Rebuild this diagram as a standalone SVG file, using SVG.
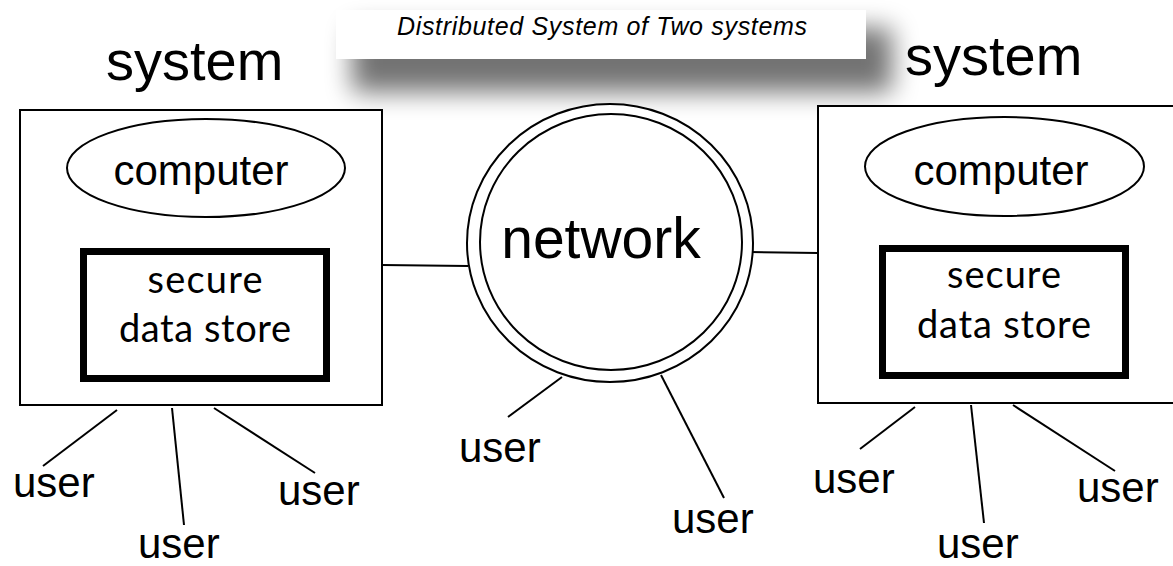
<svg xmlns="http://www.w3.org/2000/svg" width="1173" height="566" viewBox="0 0 1173 566">
  <style>
    .label { font-family: "Liberation Sans", Arial, sans-serif; fill: #000; }
    .store { font-family: Lato, "Open Sans", sans-serif; font-size: 38px; fill: #000; text-anchor: middle; }
    .frame { fill: #fff; stroke: #000; stroke-width: 2; }
    .vault { fill: #fff; stroke: #000; stroke-width: 7; }
    .wire { stroke: #000; stroke-width: 2; fill: none; }
  </style>
  <defs>
    <filter id="bannerShadow" x="-20%" y="-100%" width="140%" height="300%">
      <feGaussianBlur stdDeviation="13"/>
    </filter>
  </defs>

  <rect width="1173" height="566" fill="#fff"/>

  <!-- title banner with soft drop shadow -->
  <g id="title">
    <rect x="352" y="28" width="540" height="64" fill="#000" opacity="0.55" filter="url(#bannerShadow)"/>
    <rect x="336" y="10" width="530" height="49" fill="#fff"/>
    <text class="label" x="397" y="35" font-size="25" font-style="italic" textLength="410">Distributed System of Two systems</text>
  </g>

  <!-- connectors -->
  <g id="connectors">
    <line class="wire" x1="382" y1="265" x2="468" y2="266"/>
    <line class="wire" x1="750" y1="252" x2="818" y2="253"/>
    <line class="wire" x1="117" y1="410" x2="43" y2="466"/>
    <line class="wire" x1="172" y1="408" x2="184" y2="525"/>
    <line class="wire" x1="214" y1="408" x2="315" y2="473"/>
    <line class="wire" x1="562" y1="377" x2="508" y2="417"/>
    <line class="wire" x1="661" y1="375" x2="724" y2="498"/>
    <line class="wire" x1="915" y1="407" x2="860" y2="449"/>
    <line class="wire" x1="971" y1="405" x2="984" y2="523"/>
    <line class="wire" x1="1013" y1="405" x2="1115" y2="471"/>
  </g>

  <!-- left system -->
  <g id="system-left">
    <text class="label" x="106" y="80" font-size="56">system</text>
    <rect class="frame" x="20" y="110" width="362" height="295"/>
    <ellipse class="frame" cx="206" cy="168" rx="139" ry="49" stroke-width="1.8"/>
    <text class="label" x="201" y="185" font-size="42" text-anchor="middle">computer</text>
    <rect class="vault" x="83.5" y="251.5" width="243" height="127"/>
    <text class="store" x="205" y="293" textLength="115">secure</text>
    <text class="store" x="205" y="342" textLength="172">data store</text>
  </g>

  <!-- network -->
  <g id="network">
    <ellipse class="frame" cx="610" cy="243" rx="143" ry="139"/>
    <ellipse class="frame" cx="611" cy="242" rx="131" ry="128"/>
    <text class="label" x="601" y="258" font-size="57" text-anchor="middle">network</text>
  </g>

  <!-- right system -->
  <g id="system-right">
    <text class="label" x="905" y="75" font-size="56">system</text>
    <rect class="frame" x="818" y="106" width="370" height="297"/>
    <ellipse class="frame" cx="1004.5" cy="166.5" rx="139.5" ry="49.5" stroke-width="1.8"/>
    <text class="label" x="1001" y="185" font-size="42" text-anchor="middle">computer</text>
    <rect class="vault" x="882.5" y="248.5" width="243" height="127"/>
    <text class="store" x="1004" y="288" textLength="114">secure</text>
    <text class="store" x="1004" y="338" textLength="174">data store</text>
  </g>

  <!-- users -->
  <g id="users">
    <text class="label" x="13" y="497" font-size="42">user</text>
    <text class="label" x="138" y="558" font-size="42">user</text>
    <text class="label" x="278" y="505" font-size="42">user</text>
    <text class="label" x="459" y="462" font-size="42">user</text>
    <text class="label" x="672" y="533" font-size="42">user</text>
    <text class="label" x="813" y="493" font-size="42">user</text>
    <text class="label" x="937" y="558" font-size="42">user</text>
    <text class="label" x="1077" y="502" font-size="42">user</text>
  </g>
</svg>
